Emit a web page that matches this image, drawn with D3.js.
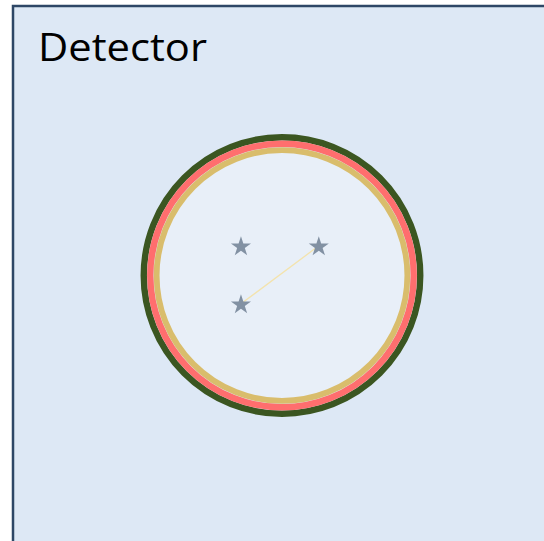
<!DOCTYPE html>
<html>
<head>
<meta charset="utf-8">
<script src="https://cdn.jsdelivr.net/npm/d3@7"></script>
<style>
  html, body { margin: 0; padding: 0; background: #ffffff; }
  svg { display: block; }
</style>
</head>
<body>
<svg id="chart" width="544" height="541"></svg>
<script>
// Detector layers, outermost first (radius in detector units, 1 = outer edge)
const layerNames = ['outer', 'middle', 'inner'];
const layerRadii = [0.977, 0.931, 0.886];
const layerColors = ['#3b5621', '#ff6e6e', '#d9bd6c'];

// Hits inside the detector (detector units, y grows downward)
const hitX = [-0.29, 0.26, -0.29];
const hitY = [-0.21, -0.21, 0.20];

// Track joining two hits (indices into the hit arrays)
const trackFrom = [2];
const trackTo = [1];

const title = 'Detector';

const svg = d3.select('#chart');
const W = 544, H = 541;

// panel
svg.append('rect')
  .attr('x', 13).attr('y', 6)
  .attr('width', W + 10).attr('height', H + 10)
  .attr('fill', '#dde8f5')
  .attr('stroke', '#2e4766')
  .attr('stroke-width', 2.5);

svg.append('text')
  .attr('x', 38).attr('y', 61)
  .attr('font-family', '"Open Sans", Lato, sans-serif')
  .attr('font-size', 38)
  .attr('fill', '#000')
  .attr('textLength', 169)
  .attr('lengthAdjust', 'spacingAndGlyphs')
  .text(title);

// scales: detector units -> pixels
const cx = 282, cy = 275.5, R = 141.5;
const x = d3.scaleLinear().domain([-1, 1]).range([cx - R, cx + R]);
const y = d3.scaleLinear().domain([-1, 1]).range([cy - R, cy + R]);
const r = d3.scaleLinear().domain([0, 1]).range([0, R]);

const g = svg.append('g');

// inner fill
g.append('circle')
  .attr('cx', x(0)).attr('cy', y(0))
  .attr('r', r(layerRadii[2]))
  .attr('fill', '#e8eff8');

g.selectAll('circle.layer')
  .data(layerNames)
  .join('circle')
    .attr('class', 'layer')
    .attr('cx', x(0)).attr('cy', y(0))
    .attr('r', (d, i) => r(layerRadii[i]))
    .attr('fill', 'none')
    .attr('stroke', (d, i) => layerColors[i])
    .attr('stroke-width', (d, i) => i === 2 ? 5.8 : 6.4);

// track line
g.selectAll('line.track')
  .data(trackFrom)
  .join('line')
    .attr('class', 'track')
    .attr('x1', (d) => x(hitX[d])).attr('y1', (d) => y(hitY[d]))
    .attr('x2', (d, i) => x(hitX[trackTo[i]])).attr('y2', (d, i) => y(hitY[trackTo[i]]))
    .attr('stroke', '#f3e3ad')
    .attr('stroke-width', 1.3);

// hits as stars
const star = d3.symbol().type(d3.symbolStar).size(125);
g.selectAll('path.hit')
  .data(hitX)
  .join('path')
    .attr('class', 'hit')
    .attr('transform', (d, i) => `translate(${x(d)},${y(hitY[i]) + 1})`)
    .attr('d', star)
    .attr('fill', '#8291a3');
</script>
</body>
</html>
